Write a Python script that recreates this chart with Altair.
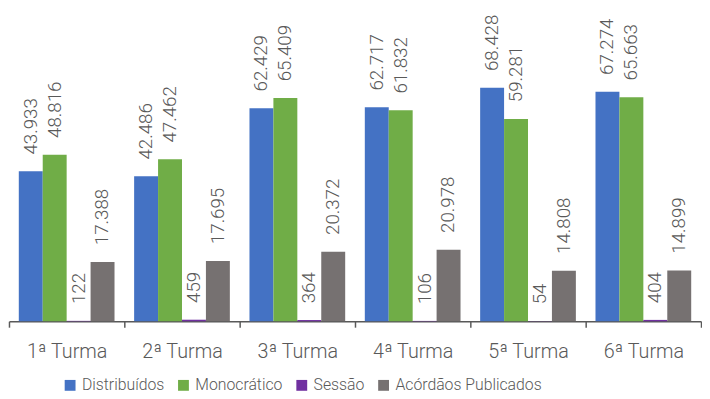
import altair as alt
import pandas as pd

turmas = ["1ª Turma", "2ª Turma", "3ª Turma", "4ª Turma", "5ª Turma", "6ª Turma"]
series = ["Distribuídos", "Monocrático", "Sessão", "Acórdãos Publicados"]
distribuidos = [43933, 42486, 62429, 62717, 68428, 67274]
monocratico = [48816, 47462, 65409, 61832, 59281, 65663]
sessao = [122, 459, 364, 106, 54, 404]
acordaos = [17388, 17695, 20372, 20978, 14808, 14899]
colors = ["#4472C4", "#70AD47", "#7030A0", "#767171"]

rows = []
for name, vals in zip(series, [distribuidos, monocratico, sessao, acordaos]):
    for t, v in zip(turmas, vals):
        rows.append({"Turma": t, "Série": name, "Valor": v,
                     "Rótulo": f"{v:,}".replace(",", ".")})
df = pd.DataFrame(rows)

FONT = "Roboto"
TXT = "#595959"

x = alt.X("Turma:N", sort=turmas, title=None,
          scale=alt.Scale(paddingInner=0, paddingOuter=0),
          axis=alt.Axis(labelAngle=0, tickBand="extent", labelFontSize=20,
                        labelFont=FONT, labelFontWeight=300, labelColor=TXT,
                        domainColor=TXT, domainWidth=1.5, tickColor=TXT,
                        tickWidth=1.5, tickSize=6, labelPadding=15))
xo = alt.XOffset("Série:N", sort=series,
                 scale=alt.Scale(paddingInner=0, paddingOuter=0.41))
y = alt.Y("Valor:Q", scale=alt.Scale(domain=[0, 91000], nice=False), axis=None)

bars = alt.Chart(df).mark_bar().encode(
    x=x, xOffset=xo, y=y,
    color=alt.Color("Série:N", sort=series,
                    scale=alt.Scale(domain=series, range=colors),
                    legend=alt.Legend(title=None, orient="none", direction="horizontal",
                                      legendX=54, legendY=372, symbolType="square",
                                      symbolSize=121, symbolStrokeWidth=0,
                                      labelFont=FONT, labelFontWeight=300,
                                      labelFontSize=16, labelLimit=400,
                                      labelColor=TXT, columnPadding=11,
                                      labelOffset=4)),
)

labels = alt.Chart(df).mark_text(angle=270, align="left", baseline="middle",
                                 dx=17, font=FONT, fontWeight=300, fontSize=19,
                                 color=TXT).encode(
    x=x, xOffset=xo, y=y, text="Rótulo:N")

chart = alt.layer(bars, labels).properties(width=702, height=315).configure(
    padding=0).configure_view(stroke=None)

chart.save("out.html", embed_options={"renderer": "svg", "actions": False})
